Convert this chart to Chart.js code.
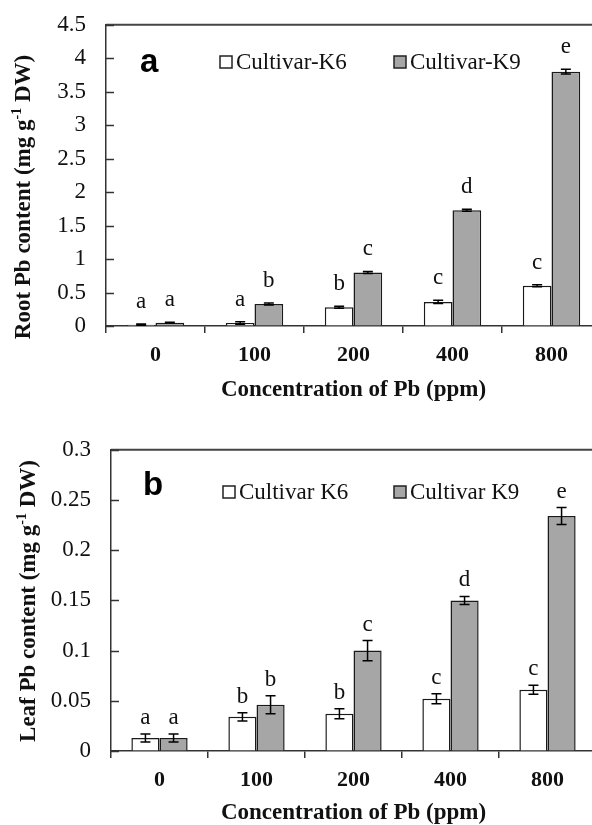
<!DOCTYPE html>
<html>
<head>
<meta charset="utf-8">
<script src="https://cdn.jsdelivr.net/npm/chart.js@4.4.1/dist/chart.umd.min.js"></script>
<style>
html, body { margin: 0; padding: 0; background: #fff; overflow: hidden; width: 592px; height: 825px; }
canvas { position: absolute; left: 0; }
#rootChart { top: -9px; }
#leafChart { top: 416px; }
</style>
</head>
<body>
<canvas id="rootChart" width="620" height="419"></canvas>
<canvas id="leafChart" width="620" height="411"></canvas>
<script>
// Pb concentrations (x axis)
const categories = ['0', '100', '200', '400', '800'];

// Panel a - root Pb content (mg g-1 DW)
const rootK6 = [0.02, 0.045, 0.28, 0.36, 0.60];
const rootK9 = [0.05, 0.33, 0.80, 1.73, 3.80];
const rootK6Err = [0.01, 0.02, 0.015, 0.025, 0.015];
const rootK9Err = [0.005, 0.015, 0.015, 0.015, 0.035];
const rootK6Letters = ['a', 'a', 'b', 'c', 'c'];
const rootK9Letters = ['a', 'b', 'c', 'd', 'e'];

// Panel b - leaf Pb content (mg g-1 DW)
const leafK6 = [0.013, 0.034, 0.037, 0.052, 0.061];
const leafK9 = [0.013, 0.046, 0.100, 0.150, 0.234];
const leafK6Err = [0.004, 0.004, 0.005, 0.005, 0.0045];
const leafK9Err = [0.004, 0.009, 0.010, 0.004, 0.0085];
const leafK6Letters = ['a', 'b', 'b', 'c', 'c'];
const leafK9Letters = ['a', 'b', 'c', 'd', 'e'];

const SERIF = '"Liberation Serif", "Times New Roman", serif';
const SANS = '"Liberation Sans", Arial, sans-serif';
const INK = '#111';
const AXIS = '#333';

// Draws error bars, letters, frame, inward ticks, legend and titles
const panelDecor = {
    id: 'panelDecor',
    afterDatasetsDraw(chart, args, opts) {
        const ctx = chart.ctx;
        const area = chart.chartArea;
        const y = chart.scales.y;
        ctx.save();

        // top frame line
        ctx.strokeStyle = '#444';
        ctx.lineWidth = 2;
        ctx.beginPath();
        ctx.moveTo(area.left, area.top);
        ctx.lineTo(area.right, area.top);
        ctx.stroke();

        // inward y ticks
        ctx.strokeStyle = AXIS;
        ctx.lineWidth = 1.5;
        y.ticks.forEach(t => {
            const py = Math.round(y.getPixelForValue(t.value)) + 0.5;
            ctx.beginPath();
            ctx.moveTo(area.left, py);
            ctx.lineTo(area.left + 8, py);
            ctx.stroke();
        });

        // error bars + significance letters
        chart.data.datasets.forEach((ds, i) => {
            const meta = chart.getDatasetMeta(i);
            meta.data.forEach((bar, j) => {
                const v = ds.data[j];
                const e = ds.errors[j];
                const top = y.getPixelForValue(v + e);
                const bot = y.getPixelForValue(Math.max(v - e, 0));
                ctx.strokeStyle = '#000';
                ctx.lineWidth = 1.5;
                ctx.beginPath();
                ctx.moveTo(bar.x, top);
                ctx.lineTo(bar.x, bot);
                ctx.moveTo(bar.x - 5, top);
                ctx.lineTo(bar.x + 5, top);
                ctx.moveTo(bar.x - 5, bot);
                ctx.lineTo(bar.x + 5, bot);
                ctx.stroke();

                ctx.fillStyle = INK;
                ctx.font = '23px ' + SERIF;
                ctx.textAlign = 'center';
                ctx.textBaseline = 'middle';
                ctx.fillText(ds.letters[j], bar.x, top - opts.letterGap);
            });
        });

        // legend
        ctx.textAlign = 'left';
        ctx.textBaseline = 'middle';
        chart.data.datasets.forEach((ds, i) => {
            const pos = opts.legend[i];
            ctx.fillStyle = ds.backgroundColor;
            ctx.fillRect(pos.x, pos.y - 6, 12, 12);
            ctx.strokeStyle = '#222';
            ctx.lineWidth = 1.5;
            ctx.strokeRect(pos.x, pos.y - 6, 12, 12);
            ctx.fillStyle = INK;
            ctx.font = '23px ' + SERIF;
            ctx.fillText(ds.label, pos.x + 16, pos.y + 1);
        });

        // panel letter
        ctx.fillStyle = '#000';
        ctx.font = 'bold 33px ' + SANS;
        ctx.textBaseline = 'alphabetic';
        ctx.fillText(opts.panel.text, opts.panel.x, opts.panel.y);

        // y axis title with superscript
        const t = opts.yTitle;
        const main = 'bold 23px ' + SERIF;
        const sup = 'bold 14px ' + SERIF;
        ctx.translate(t.x, t.y);
        ctx.rotate(-Math.PI / 2);
        let w = 0;
        t.parts.forEach(p => { ctx.font = p[1] ? sup : main; w += ctx.measureText(p[0]).width; });
        let px = -w / 2;
        ctx.textBaseline = 'middle';
        ctx.fillStyle = INK;
        t.parts.forEach(p => {
            ctx.font = p[1] ? sup : main;
            ctx.fillText(p[0], px, p[1] ? -7 : 0);
            px += ctx.measureText(p[0]).width;
        });

        ctx.restore();
    }
};

function tickLabel(v) {
    return Number(v.toFixed(2)).toString();
}

function makeChart(canvasId, cfg) {
    const ctx = document.getElementById(canvasId).getContext('2d');
    return new Chart(ctx, {
        type: 'bar',
        data: {
            labels: categories,
            datasets: [{
                label: cfg.labels[0],
                data: cfg.k6,
                errors: cfg.k6Err,
                letters: cfg.k6Letters,
                backgroundColor: '#ffffff',
                borderColor: '#1a1a1a',
                borderWidth: 1.5,
            }, {
                label: cfg.labels[1],
                data: cfg.k9,
                errors: cfg.k9Err,
                letters: cfg.k9Letters,
                backgroundColor: '#a6a6a6',
                borderColor: '#1a1a1a',
                borderWidth: 1.5,
            }],
        },
        options: {
            responsive: false,
            animation: false,
            datasets: {
                bar: { categoryPercentage: 0.58, barPercentage: 1.0 }
            },
            layout: { padding: cfg.padding },
            plugins: {
                legend: { display: false },
                tooltip: { enabled: false },
                panelDecor: cfg.decor,
            },
            scales: {
                x: {
                    grid: { offset: true, drawOnChartArea: false, tickLength: 7, color: AXIS, lineWidth: 1.5 },
                    border: { color: AXIS, width: 1.5 },
                    ticks: { color: INK, padding: 9, font: { family: SERIF, size: 22, weight: 'bold' } },
                    title: {
                        display: true,
                        text: 'Concentration of Pb (ppm)',
                        color: INK,
                        font: { family: SERIF, size: 23, weight: 'bold' },
                        padding: { top: 0, bottom: cfg.titlePad },
                    },
                    afterFit(s) { s.height = cfg.xHeight; },
                },
                y: {
                    min: 0,
                    max: cfg.yMax,
                    grid: { drawOnChartArea: false, drawTicks: false },
                    border: { color: AXIS, width: 1.5 },
                    ticks: {
                        stepSize: cfg.step,
                        padding: 20,
                        color: INK,
                        font: { family: SERIF, size: 23 },
                        callback: tickLabel,
                    },
                    afterFit(s) { s.width = cfg.yWidth; },
                },
            },
        },
        plugins: [panelDecor],
    });
}

// canvas a sits 9px above the page top, canvas b starts at 416px
makeChart('rootChart', {
    labels: ['Cultivar-K6', 'Cultivar-K9'],
    k6: rootK6, k9: rootK9, k6Err: rootK6Err, k9Err: rootK9Err,
    k6Letters: rootK6Letters, k9Letters: rootK9Letters,
    yMax: 4.5, step: 0.5,
    padding: { left: 0, top: 24, right: 19, bottom: 0 },
    xHeight: 84, yWidth: 106, titlePad: 6,
    decor: {
        letterGap: 22,
        legend: [{ x: 220, y: 71 }, { x: 394, y: 71 }],
        panel: { text: 'a', x: 140, y: 81 },
        yTitle: { x: 24, y: 206, parts: [['Root Pb content (mg g', false], ['-1', true], [' DW)', false]] },
    },
});

makeChart('leafChart', {
    labels: ['Cultivar K6', 'Cultivar K9'],
    k6: leafK6, k9: leafK9, k6Err: leafK6Err, k9Err: leafK9Err,
    k6Letters: leafK6Letters, k9Letters: leafK9Letters,
    yMax: 0.3, step: 0.05,
    padding: { left: 0, top: 24, right: 24, bottom: 0 },
    xHeight: 76, yWidth: 111, titlePad: 0,
    decor: {
        letterGap: 16,
        legend: [{ x: 223, y: 76 }, { x: 394, y: 76 }],
        panel: { text: 'b', x: 143, y: 79 },
        yTitle: { x: 29, y: 185, parts: [['Leaf Pb content (mg g', false], ['-1', true], [' DW)', false]] },
    },
});
</script>
</body>
</html>
